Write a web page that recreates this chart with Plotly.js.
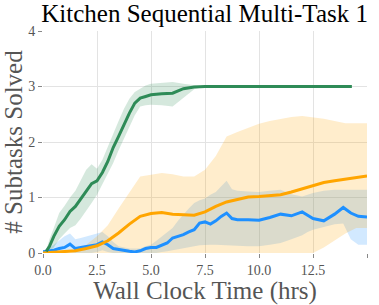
<!DOCTYPE html>
<html><head><meta charset="utf-8">
<script src="https://cdn.plot.ly/plotly-3.0.1.min.js"></script>
<style>html,body{margin:0;padding:0;background:#fff}#chart{width:379px;height:305px}</style>
</head><body><div id="chart"></div>
<script>
// Green series
const greenT = [0.15,0.3,0.5,0.75,1.0,1.25,1.5,1.75,2.0,2.25,2.5,2.75,3.0,3.25,3.5,3.75,4.0,4.25,4.5,4.75,5.0,5.5,6.0,6.5,7.0,7.5,8.0,9.0,10.0,11.0,12.0,13.0,14.3];
const greenMean = [0.03,0.12,0.3,0.48,0.6,0.75,0.84,0.98,1.12,1.25,1.3,1.45,1.65,1.9,2.1,2.32,2.52,2.7,2.79,2.82,2.85,2.87,2.88,2.96,2.99,3.0,3.0,3.0,3.0,3.0,3.0,3.0,3.0];
const greenLow = [0,0.02,0.1,0.25,0.35,0.45,0.5,0.62,0.75,0.9,1.05,1.22,1.42,1.62,1.85,2.05,2.28,2.48,2.64,2.66,2.67,2.66,2.64,2.8,2.95,3.0,3.0,3.0,3.0,3.0,3.0,3.0,3.0];
const greenHigh = [0.05,0.25,0.45,0.72,0.85,1.0,1.12,1.3,1.5,1.6,1.52,1.68,1.92,2.15,2.38,2.6,2.78,2.9,2.96,3.02,3.05,3.07,3.08,3.05,3.02,3.0,3.0,3.0,3.0,3.0,3.0,3.0,3.0];

// Orange series
const orangeT = [0,0.5,1,1.5,2,2.5,3,3.5,4,4.5,5,5.5,6,6.5,7,7.5,8,8.5,9,9.5,10,10.5,11,11.5,12,12.5,13,13.5,14,14.5,15];
const orangeMean = [0,0.01,0.02,0.04,0.08,0.13,0.22,0.36,0.52,0.66,0.71,0.73,0.7,0.69,0.68,0.74,0.84,0.92,0.97,1.01,1.02,1.03,1.05,1.1,1.16,1.22,1.27,1.3,1.33,1.36,1.39];
const orangeLow = [0,0,0,0,0,0,0,0,0,0,0,0,0,0,0,0,0,0,0,0,0,0,0,0,0,0,0.1,0.22,0.35,0.45,0.45];
const orangeHigh = [0,0.01,0.03,0.06,0.15,0.3,0.5,0.8,1.1,1.38,1.41,1.44,1.42,1.38,1.38,1.5,1.75,2.1,2.18,2.25,2.33,2.38,2.42,2.45,2.47,2.45,2.42,2.38,2.34,2.34,2.34];

// Blue series
const blueT = [0,0.25,0.5,0.75,1.0,1.25,1.5,1.75,2.0,2.25,2.5,2.75,3.0,3.25,3.5,3.75,4.0,4.25,4.5,4.75,5.0,5.25,5.5,5.75,6.0,6.25,6.5,6.75,7.0,7.25,7.5,7.75,8.0,8.25,8.5,8.75,9.0,9.5,10,10.5,11,11.5,12,12.25,12.5,13,13.5,13.9,14.25,14.6,15];
const blueMean = [0.02,0.03,0.05,0.08,0.1,0.16,0.08,0.1,0.12,0.13,0.15,0.2,0.15,0.08,0.06,0.04,0.03,0.02,0.04,0.08,0.1,0.1,0.14,0.18,0.27,0.3,0.33,0.38,0.42,0.54,0.56,0.52,0.58,0.66,0.72,0.62,0.6,0.6,0.59,0.64,0.7,0.67,0.74,0.68,0.62,0.58,0.7,0.82,0.72,0.66,0.65];
const blueLow = [0,0,0,0,0,0.02,0,0,0,0,0.02,0.05,0.02,0,0,0,0,0,0,0,0,0,0.02,0.03,0.05,0.06,0.08,0.1,0.12,0.14,0.15,0.15,0.15,0.15,0.15,0.14,0.13,0.12,0.12,0.15,0.18,0.25,0.32,0.38,0.42,0.47,0.52,0.53,0.25,0.15,0.15];
const blueHigh = [0.05,0.08,0.15,0.22,0.3,0.35,0.25,0.27,0.3,0.32,0.35,0.38,0.3,0.2,0.12,0.1,0.08,0.08,0.08,0.12,0.15,0.22,0.3,0.38,0.45,0.58,0.7,0.8,0.9,0.95,0.98,1.05,1.1,1.2,1.3,1.15,1.12,1.11,1.1,1.12,1.14,1.06,1.02,1.05,1.08,1.12,1.14,1.14,1.14,1.14,1.14];

const cGreen = '#2e8b57', cOrange = '#ffa500', cBlue = '#1e90ff';
const fGreen = 'rgba(46,139,87,0.2)', fOrange = 'rgba(255,165,0,0.2)', fBlue = 'rgba(30,144,255,0.2)';

function band(t, lo, hi, fill) {
  return {x: t.concat(t.slice().reverse()), y: hi.concat(lo.slice().reverse()),
    type: 'scatter', mode: 'lines', fill: 'toself', fillcolor: fill,
    line: {width: 0, color: 'rgba(0,0,0,0)'}, hoverinfo: 'skip', showlegend: false};
}
function line(t, y, c) {
  return {x: t, y: y, type: 'scatter', mode: 'lines', line: {color: c, width: 3}, showlegend: false};
}
const data = [
  band(blueT, blueLow, blueHigh, fBlue),
  band(orangeT, orangeLow, orangeHigh, fOrange),
  band(greenT, greenLow, greenHigh, fGreen),
  line(blueT, blueMean, cBlue),
  line(orangeT, orangeMean, cOrange),
  line(greenT, greenMean, cGreen)
];
const serif = 'Times New Roman, Liberation Serif, Tinos, DejaVu Serif, serif';
const layout = {
  width: 379, height: 305,
  margin: {l: 43, r: 12, t: 31, b: 52},
  paper_bgcolor: '#fff', plot_bgcolor: '#fff',
  font: {family: serif, color: '#555'},
  title: {text: 'Kitchen Sequential Multi-Task 1', font: {family: serif, size: 25, color: '#000'},
    x: 0.54, xanchor: 'center', y: 0.955, yref: 'container', yanchor: 'middle'},
  xaxis: {range: [0, 15], tickvals: [0, 2.5, 5, 7.5, 10, 12.5, 15], ticktext: ['0.0','2.5','5.0','7.5','10.0','12.5','15.0'],
    showgrid: true, gridcolor: '#e3e3e3', gridwidth: 1, zeroline: false, showline: false,
    ticks: 'outside', ticklen: 4, tickcolor: '#888', tickfont: {family: serif, size: 14, color: '#555'},
    title: {text: 'Wall Clock Time (hrs)', font: {family: serif, size: 25, color: '#555'}, standoff: 2}},
  yaxis: {range: [0, 4], tickvals: [0, 1, 2, 3, 4],
    showgrid: true, gridcolor: '#e3e3e3', gridwidth: 1, zeroline: false, showline: false,
    ticks: 'outside', ticklen: 4, tickcolor: '#888', tickfont: {family: serif, size: 14, color: '#555'},
    title: {text: '# Subtasks Solved', font: {family: serif, size: 25, color: '#555'}, standoff: 4}},
  showlegend: false
};
Plotly.newPlot('chart', data, layout, {staticPlot: true});
</script></body></html>
